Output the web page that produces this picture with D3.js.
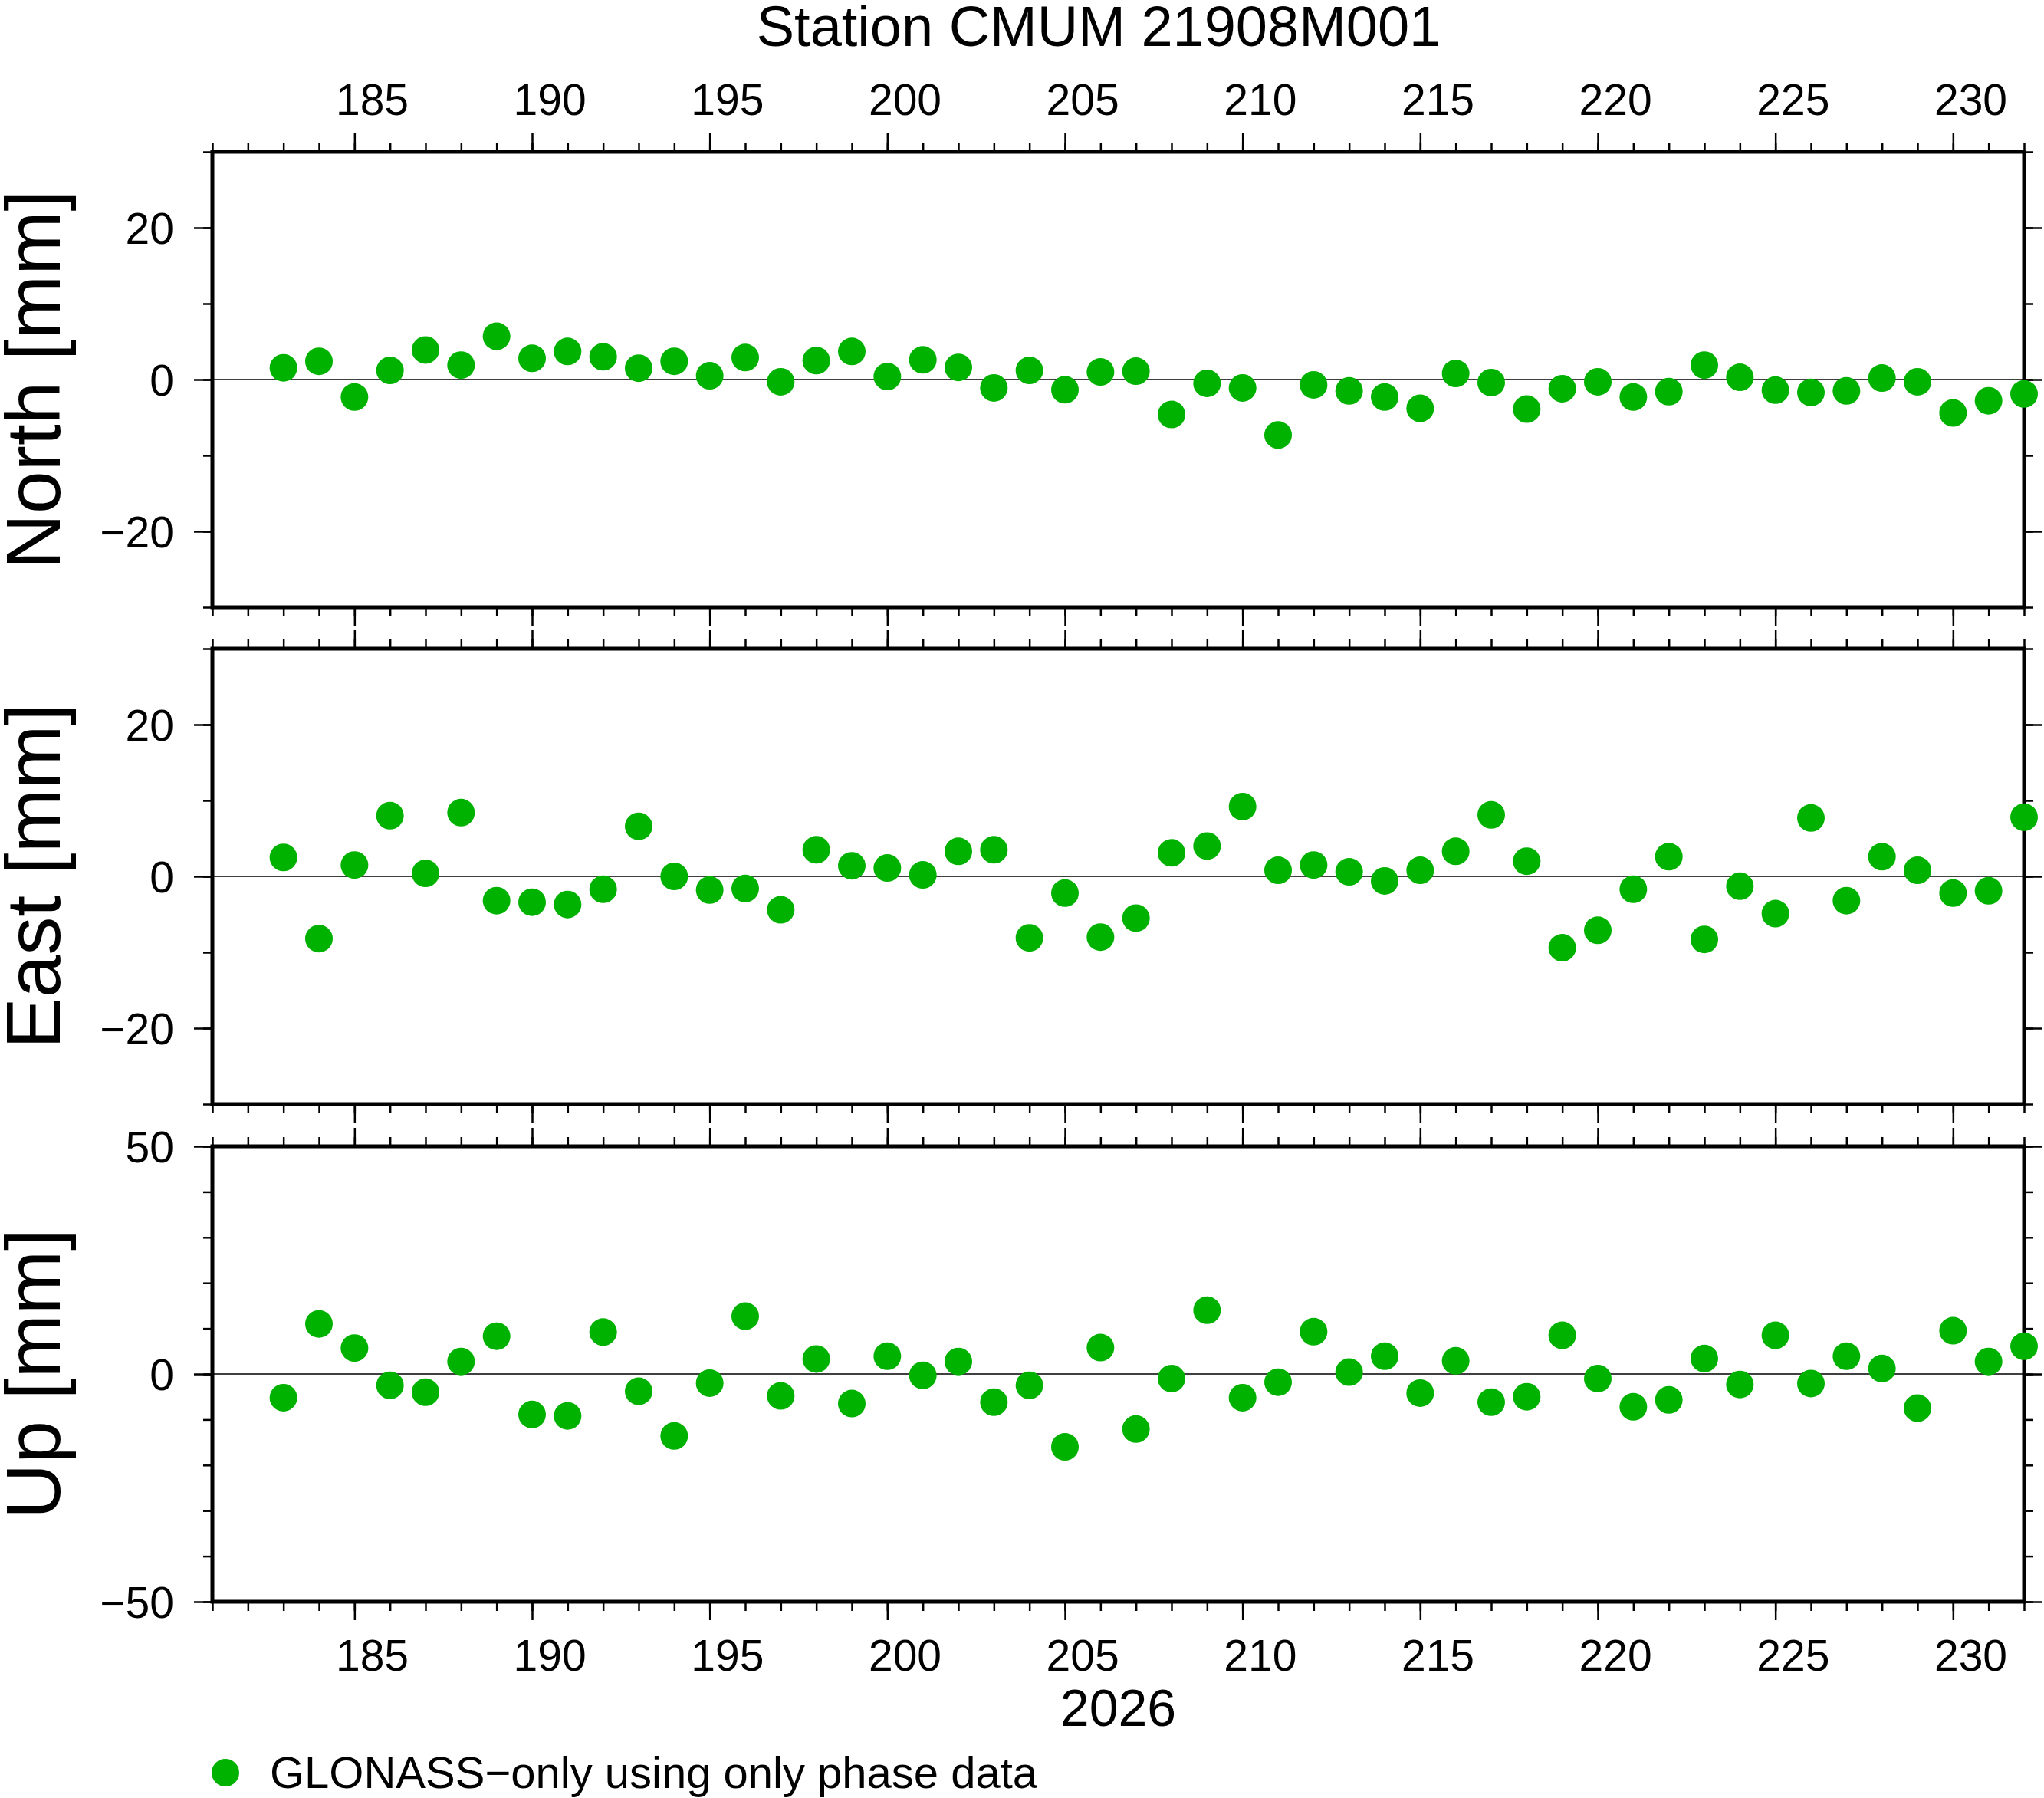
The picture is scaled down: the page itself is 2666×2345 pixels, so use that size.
<!DOCTYPE html>
<html>
<head>
<meta charset="utf-8">
<title>Station CMUM 21908M001</title>
<script src="https://cdn.jsdelivr.net/npm/d3@7"></script>
<style>
  body { margin: 0; background: #fff; }
  svg { display: block; font-family: "Liberation Sans", Arial, Helvetica, sans-serif; }
  .frame { fill: none; stroke: #000; stroke-width: 5; }
  .axis path { display: none; }
  .axis line { stroke: #000; stroke-width: 2.5; }
  .zero { stroke: #000; stroke-width: 1.5; }
  .dot { fill: rgb(0, 178, 0); }
</style>
</head>
<body>
<div id="chart"></div>
<script>

// Day of year 2026
const days = [183, 184, 185, 186, 187, 188, 189, 190, 191, 192,
  193, 194, 195, 196, 197, 198, 199, 200, 201, 202,
  203, 204, 205, 206, 207, 208, 209, 210, 211, 212,
  213, 214, 215, 216, 217, 218, 219, 220, 221, 222,
  223, 224, 225, 226, 227, 228, 229, 230, 231, 232];

// Residuals in mm
const north = [1.55, 2.4, -2.3, 1.2, 3.9, 1.9, 5.7, 2.8, 3.7, 3.0,
  1.5, 2.4, 0.5, 2.9, -0.3, 2.5, 3.7, 0.4, 2.6, 1.6,
  -1.1, 1.2, -1.35, 1.0, 1.1, -4.6, -0.5, -1.1, -7.3, -0.7,
  -1.5, -2.3, -3.8, 0.8, -0.4, -3.9, -1.2, -0.3, -2.3, -1.6,
  1.9, 0.3, -1.4, -1.7, -1.5, 0.2, -0.3, -4.4, -2.8, -1.9];

const east = [2.5, -8.2, 1.5, 8.0, 0.4, 8.4, -3.2, -3.4, -3.7, -1.7,
  6.6, 0.0, -1.8, -1.6, -4.4, 3.5, 1.4, 1.1, 0.2, 3.3,
  3.5, -8.1, -2.2, -8.0, -5.5, 3.1, 4.0, 9.2, 0.8, 1.5,
  0.6, -0.6, 0.8, 3.3, 8.1, 2.0, -9.4, -7.1, -1.7, 2.6,
  -8.3, -1.3, -4.9, 7.7, -3.2, 2.6, 0.8, -2.2, -1.9, 7.8];

const up = [-5.2, 11.0, 5.7, -2.5, -4.0, 2.75, 8.3, -8.9, -9.2, 9.2,
  -3.8, -13.6, -2.0, 12.7, -4.8, 3.3, -6.5, 3.9, -0.3, 2.75,
  -6.2, -2.5, -16.0, 5.8, -12.1, -1.0, 14.0, -5.2, -1.8, 9.3,
  0.4, 3.9, -4.2, 2.9, -6.2, -5.0, 8.5, -1.0, -7.2, -5.7,
  3.4, -2.3, 8.5, -2.1, 3.9, 1.2, -7.5, 9.5, 2.75, 6.1];

const xDomain = [181, 232];
const xMajorTicks = [185, 190, 195, 200, 205, 210, 215, 220, 225, 230];

const panelNames = ["North [mm]", "East [mm]", "Up [mm]"];
const panelSeries = [north, east, up];
const panelDomains = [[-30, 30], [-30, 30], [-50, 50]];
const panelMajorTicks = [[-20, 0, 20], [-20, 0, 20], [-50, 0, 50]];
const panelMinorTicks = [
  [-30, -20, -10, 0, 10, 20, 30],
  [-30, -20, -10, 0, 10, 20, 30],
  [-50, -40, -30, -20, -10, 0, 10, 20, 30, 40, 50]
];

const title = "Station CMUM 21908M001";
const yearLabel = "2026";
const legendLabel = "GLONASS\u2212only using only phase data";

const width = 2666,
  height = 2345,
  plotLeft = 277,
  plotRight = 2640,
  panelTops = [198, 846, 1495],
  panelHeight = 594,
  majorLen = 24,
  minorLen = 12,
  tickFont = 57,
  dotR = 18;

const fmt = d => (d < 0 ? "\u2212" + Math.abs(d) : "" + d);

const svg = d3.select("#chart")
  .append("svg")
    .attr("width", width)
    .attr("height", height)
    .attr("viewBox", [0, 0, width, height].join(" "));

const xScale = d3.scaleLinear()
  .domain(xDomain)
  .range([plotLeft, plotRight]);

const minorDays = d3.range(xDomain[0], xDomain[1] + 1);

// Title
svg.append("text")
  .attr("x", 1433)
  .attr("y", 60)
  .attr("text-anchor", "middle")
  .style("font-size", "74px")
  .text(title);

// draw ticks along a horizontal edge (dir = -1 up, +1 down)
function xTicks(y, dir, labels) {
  let axisFn = dir < 0 ? d3.axisTop : d3.axisBottom;

  svg.append("g")
      .attr("class", "axis")
      .attr("transform", "translate(0," + y + ")")
      .call(axisFn(xScale).tickValues(minorDays).tickSize(minorLen).tickFormat(""));

  svg.append("g")
      .attr("class", "axis")
      .attr("transform", "translate(0," + y + ")")
      .call(axisFn(xScale).tickValues(xMajorTicks).tickSize(majorLen).tickFormat(""));

  if (labels) {
    // annotations sit in the middle of the day interval
    svg.append("g")
      .selectAll("text")
      .data(xMajorTicks)
      .enter()
      .append("text")
        .attr("x", d => xScale(d + 0.5))
        .attr("y", dir < 0 ? y - 48 : y + 90)
        .attr("text-anchor", "middle")
        .style("font-size", tickFont + "px")
        .text(d => d);
  }
}

panelSeries.forEach(function (values, i) {
  let top = panelTops[i],
    bottom = top + panelHeight;

  let yScale = d3.scaleLinear()
    .domain(panelDomains[i])
    .range([bottom, top]);

  // left axis: minor + major, labels on major
  svg.append("g")
      .attr("class", "axis")
      .attr("transform", "translate(" + plotLeft + ",0)")
      .call(d3.axisLeft(yScale).tickValues(panelMinorTicks[i]).tickSize(minorLen).tickFormat(""));

  let yAxis = svg.append("g")
      .attr("class", "axis")
      .attr("transform", "translate(" + plotLeft + ",0)")
      .call(d3.axisLeft(yScale).tickValues(panelMajorTicks[i]).tickSize(majorLen).tickPadding(26).tickFormat(fmt));

  yAxis.selectAll("text")
      .attr("dy", "0.36em")
      .style("font-size", tickFont + "px")
      .style("font-family", "inherit");

  // right axis, no labels
  svg.append("g")
      .attr("class", "axis")
      .attr("transform", "translate(" + plotRight + ",0)")
      .call(d3.axisRight(yScale).tickValues(panelMinorTicks[i]).tickSize(minorLen).tickFormat(""));

  svg.append("g")
      .attr("class", "axis")
      .attr("transform", "translate(" + plotRight + ",0)")
      .call(d3.axisRight(yScale).tickValues(panelMajorTicks[i]).tickSize(majorLen).tickFormat(""));

  // top and bottom ticks
  xTicks(top, -1, i === 0);
  xTicks(bottom, 1, i === panelSeries.length - 1);

  // zero line
  svg.append("line")
      .attr("class", "zero")
      .attr("x1", plotLeft)
      .attr("x2", plotRight)
      .attr("y1", yScale(0))
      .attr("y2", yScale(0));

  // frame
  svg.append("rect")
      .attr("class", "frame")
      .attr("x", plotLeft)
      .attr("y", top)
      .attr("width", plotRight - plotLeft)
      .attr("height", panelHeight);

  // y label
  svg.append("text")
      .attr("transform", "translate(78," + (top + panelHeight / 2) + ") rotate(-90)")
      .attr("text-anchor", "middle")
      .style("font-size", "100px")
      .text(panelNames[i]);

  // points
  svg.append("g")
    .selectAll("circle")
    .data(days.map((d, j) => [d, values[j]]))
    .enter()
    .append("circle")
      .attr("class", "dot")
      .attr("cx", d => xScale(d[0]))
      .attr("cy", d => yScale(d[1]))
      .attr("r", dotR);
});

// year label
svg.append("text")
  .attr("x", (plotLeft + plotRight) / 2)
  .attr("y", 2251)
  .attr("text-anchor", "middle")
  .style("font-size", "68px")
  .text(yearLabel);

// legend
svg.append("circle")
  .attr("class", "dot")
  .attr("cx", 294)
  .attr("cy", 2312)
  .attr("r", dotR);

svg.append("text")
  .attr("x", 352)
  .attr("y", 2332)
  .style("font-size", "58px")
  .text(legendLabel);

</script>
</body>
</html>
